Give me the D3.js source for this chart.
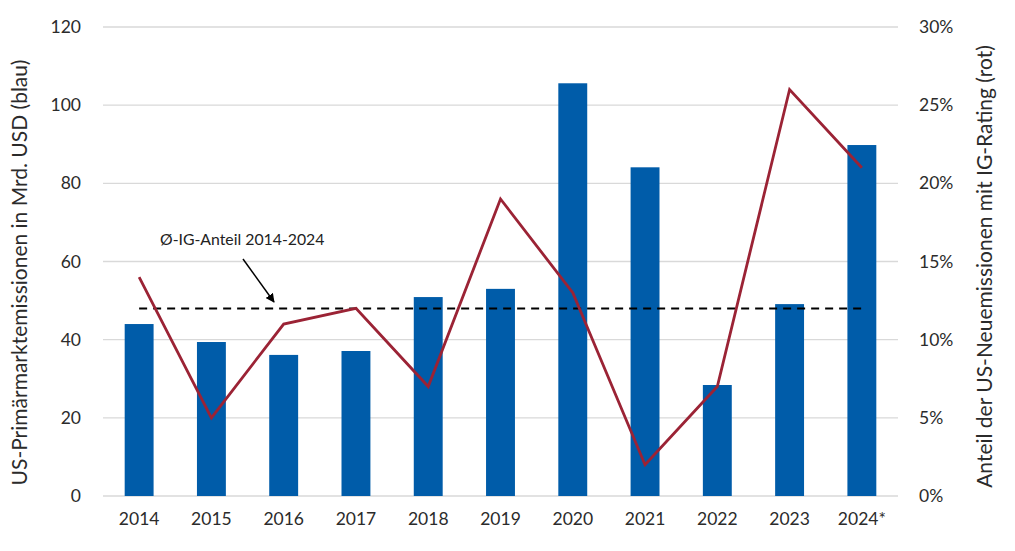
<!DOCTYPE html>
<html>
<head>
<meta charset="utf-8">
<script src="https://cdn.jsdelivr.net/npm/d3@7"></script>
<style>
  body { margin: 0; background: #fff; }
  text { font-family: Lato, "Open Sans", sans-serif; fill: #2b2b2b; }
</style>
</head>
<body>
<div class="chart"></div>
<script>
var svgWidth = 1015;
var svgHeight = 551;

var margin = { top: 27, right: 117, bottom: 55, left: 103 };
var width = svgWidth - margin.left - margin.right;
var height = svgHeight - margin.top - margin.bottom;

// data
var years = ["2014", "2015", "2016", "2017", "2018", "2019", "2020", "2021", "2022", "2023", "2024*"];
var volume = [44.0, 39.4, 36.1, 37.1, 50.9, 53.0, 105.6, 84.1, 28.4, 49.1, 89.8];
var igShare = [0.14, 0.05, 0.11, 0.12, 0.07, 0.19, 0.13, 0.02, 0.07, 0.26, 0.21];
var avgShare = 0.12;
var leftTicks = [0, 20, 40, 60, 80, 100, 120];
var rightTicks = [0, 0.05, 0.10, 0.15, 0.20, 0.25, 0.30];

var svg = d3.select(".chart")
  .append("svg")
  .attr("width", svgWidth)
  .attr("height", svgHeight);

var chartGroup = svg.append("g")
  .attr("transform", `translate(${margin.left}, ${margin.top})`);

var x = d3.scaleBand().domain(years).range([0, width]).paddingInner(0.6).paddingOuter(0.3);
var xc = d => x(d) + x.bandwidth() / 2;
var yLeft = d3.scaleLinear().domain([0, 120]).range([height, 0]);
var yRight = d3.scaleLinear().domain([0, 0.30]).range([height, 0]);

// gridlines
chartGroup.selectAll(".grid")
  .data(leftTicks)
  .enter().append("line")
  .attr("x1", 0).attr("x2", width)
  .attr("y1", d => yLeft(d)).attr("y2", d => yLeft(d))
  .attr("stroke", "#d9d9d9")
  .attr("stroke-width", 1.3);

// bars
chartGroup.selectAll(".bar")
  .data(years)
  .enter().append("rect")
  .attr("x", d => x(d))
  .attr("width", x.bandwidth())
  .attr("y", (d, i) => yLeft(volume[i]))
  .attr("height", (d, i) => height - yLeft(volume[i]))
  .attr("fill", "#005ca9");

// average dashed line
chartGroup.append("line")
  .attr("x1", xc(years[0])).attr("x2", xc(years[years.length - 1]))
  .attr("y1", yRight(avgShare)).attr("y2", yRight(avgShare))
  .attr("stroke", "#000")
  .attr("stroke-width", 2)
  .attr("stroke-dasharray", "8,6");

// IG share line
var line = d3.line()
  .x((d, i) => xc(years[i]))
  .y(d => yRight(d));

chartGroup.append("path")
  .datum(igShare)
  .attr("d", line)
  .attr("fill", "none")
  .attr("stroke", "#9b2335")
  .attr("stroke-width", 2.8)
  .attr("stroke-linejoin", "miter");

// axes (no domain lines)
var xAxis = chartGroup.append("g")
  .attr("transform", `translate(0, ${height})`)
  .call(d3.axisBottom(x).tickSize(0).tickPadding(17));
xAxis.select(".domain").remove();

var leftAxis = chartGroup.append("g")
  .call(d3.axisLeft(yLeft).tickValues(leftTicks).tickSize(0).tickPadding(22));
leftAxis.select(".domain").remove();

var rightAxis = chartGroup.append("g")
  .attr("transform", `translate(${width}, 0)`)
  .call(d3.axisRight(yRight).tickValues(rightTicks).tickSize(0).tickPadding(21)
    .tickFormat(d3.format(".0%")));
rightAxis.select(".domain").remove();

chartGroup.selectAll(".tick text")
  .style("font-size", "17.5px")
  .style("fill", "#2b2b2b");

// axis titles
svg.append("text")
  .attr("transform", `translate(27, ${margin.top + height / 2 + 11}) rotate(-90)`)
  .attr("text-anchor", "middle")
  .style("font-size", "21px")
  .text("US-Primärmarktemissionen in Mrd. USD (blau)");

svg.append("text")
  .attr("transform", `translate(992, ${margin.top + height / 2 + 5}) rotate(-90)`)
  .attr("text-anchor", "middle")
  .style("font-size", "21px")
  .text("Anteil der US-Neuemissionen mit IG-Rating (rot)");

// annotation
svg.append("defs").append("marker")
  .attr("id", "arrow")
  .attr("viewBox", "0 0 10 10")
  .attr("refX", 9).attr("refY", 5)
  .attr("markerWidth", 6).attr("markerHeight", 6)
  .attr("orient", "auto")
  .append("path")
  .attr("d", "M0,0 L10,5 L0,10 z")
  .attr("fill", "#000");

svg.append("text")
  .attr("x", 160).attr("y", 245)
  .style("font-size", "15.8px")
  .style("fill", "#222")
  .text("Ø-IG-Anteil 2014-2024");

svg.append("line")
  .attr("x1", 243).attr("y1", 259)
  .attr("x2", 274).attr("y2", 302)
  .attr("stroke", "#000")
  .attr("stroke-width", 1.5)
  .attr("marker-end", "url(#arrow)");
</script>
</body>
</html>
